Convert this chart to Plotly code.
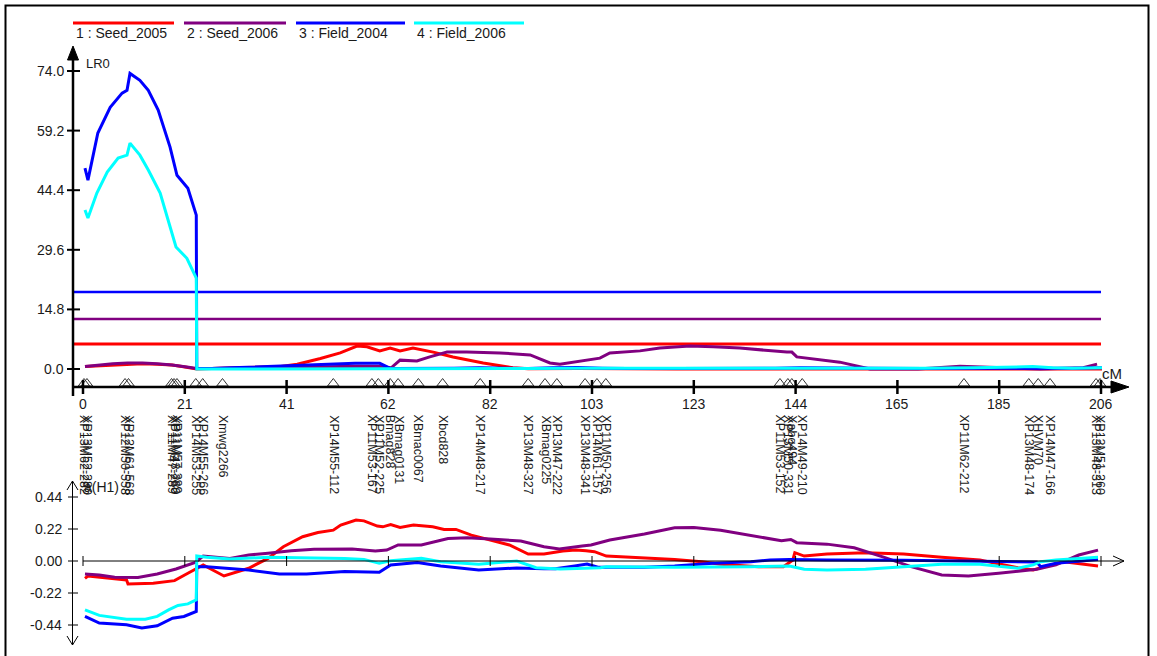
import plotly.graph_objects as go

# ------------------------------------------------------------------ data
series_names = ["1 : Seed_2005", "2 : Seed_2006", "3 : Field_2004", "4 : Field_2006"]
series_colors = ["#FF0000", "#800080", "#0000FF", "#00FFFF"]

x_tick_pos = [0, 20.58, 41.16, 61.74, 82.32, 102.9, 123.48, 144.06, 164.64, 185.22, 205.8]
x_tick_text = ["0", "21", "41", "62", "82", "103", "123", "144", "165", "185", "206"]
lr_tick_vals = [0.0, 14.8, 29.6, 44.4, 59.2, 74.0]
lr_tick_text = ["0.0", "14.8", "29.6", "44.4", "59.2", "74.0"]
eff_tick_vals = [0.44, 0.22, 0.0, -0.22, -0.44]
eff_tick_text = ["0.44", "0.22", "0.00", "-0.22", "-0.44"]

# LR thresholds (Seed_2005, Seed_2006, Field_2004)
threshold_vals = [6.2, 12.4, 19.1]
threshold_colors = ["#FF0000", "#800080", "#0000FF"]

marker_names = [
    "XP13M62-282", "XP13M52-280", "XP12M50-558", "XP12M61-568",
    "XP11M47-289", "XP11M43-280", "XP11M57-389", "XP14M53-255", "XP14M55-266",
    "Xmwg2266", "XP14M55-112", "XP11M53-167", "XP11M52-225", "Bmag828",
    "XBmag0131", "XBmac0067", "Xbcd828", "XP14M48-217", "XP13M48-327",
    "XBmag0225", "XP13M47-222", "XP13M48-341", "XP14M61-157", "XP11M50-256",
    "XP11M53-152", "XP13M50-331", "Xabg494", "XP14M49-210", "XP11M62-212",
    "XP13M48-174", "XHVM70", "XP14M47-166", "XP13M48-313", "XP12M51-260",
]
marker_pos = [
    0.2, 0.8, 8.5, 9.2,
    17.9, 18.4, 19.0, 22.8, 24.2,
    28.2, 50.6, 58.4, 59.7, 62.1,
    63.7, 67.8, 72.7, 80.3, 90.0,
    93.4, 95.8, 101.5, 103.9, 105.7,
    140.9, 142.5, 143.3, 145.4, 178.1,
    191.2, 193.1, 195.5, 204.8, 205.6,
]

# ---- LR profiles (top panel)
lr_seed2005_pos = [0.4, 3, 6, 9, 12, 15, 18, 20, 22, 23, 26, 30, 35, 40, 43.3, 48, 52, 55.4, 57.4, 60,
                   62.1, 64.1, 66.7, 70.8, 74.8, 80.9, 86.9, 90, 100, 110, 120, 130, 140, 150, 160,
                   170, 180, 190, 200, 206]
lr_seed2005 = [0.6, 0.8, 1.0, 1.2, 1.3, 1.2, 1.0, 0.6, 0.2, 0.0, 0.1, 0.2, 0.3, 0.6, 1.2, 2.6, 4.0, 5.7, 5.5, 4.5,
               5.2, 4.5, 5.2, 4.2, 3.0, 1.5, 0.3, 0.05, 0.1, 0.0, 0.0, 0.0, 0.0, 0.0, 0.0,
               0.0, 0.0, 0.05, 0.0, 0.0]

lr_seed2006_pos = [0.4, 3, 6, 9, 12, 15, 18, 21, 23, 26, 30, 40, 50, 55, 60, 62.3, 64.1, 67.5, 70.1, 73.6,
                   77.6, 84.3, 90.4, 94.4, 96.4, 104.5, 106.5, 112.6, 116.6, 122.7, 127.4, 132.8, 142.3,
                   143.3, 144.3, 153.0, 159.1, 168.8, 177.3, 186.8, 193.5, 202.2, 205.0]
lr_seed2006 = [0.6, 1.0, 1.3, 1.5, 1.5, 1.3, 1.0, 0.5, 0.1, 0.1, 0.2, 0.4, 0.6, 0.7, 0.6, 0.3, 2.2, 2.0, 3.0, 4.2,
               4.2, 4.0, 3.5, 1.5, 1.2, 2.7, 4.0, 4.5, 5.2, 5.7, 5.5, 5.2, 4.2,
               4.2, 3.0, 1.7, 0.0, 0.0, 0.7, 0.3, 0.0, 0.3, 1.2]

lr_field2004_pos = [0.4, 1.0, 3.0, 5.5, 7.9, 8.9, 9.5, 11.5, 13.2, 15.2, 17.6, 19.0, 21.2, 22.9, 23.0, 26,
                    30, 35, 40, 45, 50, 55, 60, 62, 63, 66, 70, 75, 80, 85, 90, 95, 100, 105, 110, 120,
                    130, 140, 145, 150, 160, 170, 180, 190, 195, 200, 206]
lr_field2004 = [49.9, 46.9, 58.6, 65.0, 68.5, 69.2, 73.4, 71.7, 69.2, 64.3, 55.1, 48.1, 44.9, 38.2, 0.2, 0.1,
                0.3, 0.5, 0.7, 1.0, 1.2, 1.4, 1.4, 0.2, 0.1, 0.1, 0.1, 0.2, 0.3, 0.2, 0.1, 0.3, 0.4, 0.2, 0.1, 0.1,
                0.1, 0.2, 0.3, 0.3, 0.2, 0.1, 0.1, 0.1, 0.1, 0.2, 0.3]

lr_field2006_pos = [0.4, 1.0, 2.8, 4.9, 7.1, 8.9, 9.5, 11.5, 13.2, 15.6, 17.2, 18.8, 21.0, 22.9, 23.0, 30,
                    40, 50, 60, 70, 80, 90, 100, 110, 120, 130, 140, 150, 160, 170, 180, 188, 192, 196, 200, 206]
lr_field2006 = [39.5, 37.5, 43.7, 48.9, 52.4, 53.1, 56.1, 53.1, 49.4, 43.7, 37.0, 30.3, 27.5, 22.6, 0.0, 0.0,
                0.1, 0.0, 0.0, 0.1, 0.1, 0.1, 0.2, 0.2, 0.2, 0.2, 0.2, 0.1, 0.1, 0.2, 0.3, 0.5, 0.6, 0.3, 0.2, 0.3]

# ---- additive effects a(H1) (bottom panel)
ef_seed2005_pos = [0.4, 1.0, 8.8, 9.1, 14.2, 18.5, 21.2, 24.3, 28.5, 33.5, 37.4, 40.5, 44.4, 47.5, 50.6, 52.1,
                   55.2, 56.8, 59.5, 60.6, 62.2, 64.1, 66.8, 70.7, 73.0, 75.4, 78.5, 82.3, 86.2, 90.0, 93.2,
                   97.0, 99.6, 101.7, 103.4, 105.8, 112.7, 119.6, 125.1, 128.9, 136.6, 141.6, 143.5, 143.9,
                   145.8, 150.4, 158.2, 165.9, 173.6, 181.3, 189.0, 192.1, 194.4, 198.3, 205.2]
ef_seed2005 = [-0.119, -0.103, -0.130, -0.158, -0.153, -0.135, -0.084, -0.027, -0.103, -0.050, 0.018, 0.098,
               0.167, 0.196, 0.212, 0.247, 0.281, 0.276, 0.240, 0.235, 0.251, 0.231, 0.247, 0.235, 0.217, 0.217,
               0.178, 0.144, 0.110, 0.048, 0.048, 0.068, 0.075, 0.071, 0.064, 0.034, 0.023, 0.011, -0.005,
               -0.023, -0.039, -0.039, 0.007, 0.057, 0.034, 0.048, 0.057, 0.048, 0.025, 0.007, -0.046, -0.062,
               -0.039, -0.005, -0.034]

ef_seed2006_pos = [0.4, 3.3, 6.4, 11.1, 15.0, 18.8, 22.7, 24.3, 29.7, 33.5, 37.4, 42.1, 46.7, 54.4, 59.1, 61.4,
                   63.7, 68.4, 73.8, 77.7, 82.3, 88.5, 93.2, 96.3, 100.9, 102.7, 106.5, 113.5, 119.6, 123.5,
                   128.9, 135.0, 141.2, 143.1, 144.3, 150.4, 155.9, 162.0, 167.4, 173.6, 179.0, 185.1, 192.8,
                   196.7, 201.3, 205.2]
ef_seed2006 = [-0.089, -0.096, -0.112, -0.114, -0.089, -0.055, -0.009, 0.034, 0.018, 0.041, 0.053, 0.071, 0.080,
               0.082, 0.068, 0.075, 0.110, 0.110, 0.155, 0.160, 0.151, 0.137, 0.098, 0.082, 0.103, 0.110, 0.144,
               0.185, 0.228, 0.231, 0.212, 0.174, 0.139, 0.148, 0.126, 0.116, 0.091, 0.025, -0.039, -0.096,
               -0.103, -0.084, -0.057, -0.027, 0.041, 0.075]

ef_field2004_pos = [0.4, 3.3, 8.8, 11.9, 15.0, 18.1, 20.4, 22.9, 23.0, 25.0, 33.5, 39.7, 45.2, 49.1, 52.9, 59.9,
                    62.2, 67.6, 72.3, 80.0, 87.7, 93.2, 95.5, 99.4, 101.9, 104.1, 113.5, 119.6, 127.3, 135.0,
                    138.9, 142.8, 150.4, 165.9, 181.3, 192.8, 193.6, 196.7, 205.2]
ef_field2004 = [-0.381, -0.427, -0.438, -0.461, -0.445, -0.393, -0.381, -0.347, -0.039, -0.039, -0.062, -0.089,
                -0.089, -0.080, -0.073, -0.078, -0.027, -0.011, -0.034, -0.062, -0.048, -0.053, -0.053, -0.034,
                -0.021, -0.043, -0.043, -0.034, -0.016, -0.005, 0.007, 0.011, 0.007, 0.005, 0.000, -0.007,
                -0.039, -0.016, 0.011]

ef_field2006_pos = [0.4, 3.3, 8.8, 12.6, 15.0, 17.3, 19.2, 21.2, 22.9, 23.0, 25.0, 29.7, 37.4, 45.2, 52.9, 56.8,
                    59.9, 62.2, 68.4, 72.3, 80.0, 87.7, 91.6, 96.5, 99.4, 104.6, 105.8, 119.6, 135.0, 142.8,
                    145.8, 150.4, 158.2, 165.9, 173.6, 181.3, 189.0, 192.1, 193.6, 196.7, 205.2]
ef_field2006 = [-0.336, -0.374, -0.400, -0.400, -0.381, -0.336, -0.306, -0.295, -0.267, 0.034, 0.025, 0.014,
                0.025, 0.023, 0.018, 0.011, -0.016, 0.002, 0.018, -0.005, -0.023, 0.000, -0.046, -0.055, -0.053,
                -0.046, -0.039, -0.043, -0.039, -0.034, -0.057, -0.062, -0.057, -0.039, -0.023, -0.023, -0.050,
                -0.027, -0.005, 0.007, 0.025]

# ------------------------------------------------------------------ layout constants
W, H = 1157, 656
FONT = "Liberation Sans, Arial, sans-serif"
TXT = "#1a1a1a"
X0_PX, X_SCALE = 83.0, 1018.0 / 205.8      # px of 0 cM, px per cM
LR0_PX, LR_SCALE = 369.0, 298.0 / 74.0      # px of LR 0, px per LR unit
EF0_PX, EF_SCALE = 561.0, 128.0 / 0.88      # px of effect 0, px per unit

def PX(x):
    return x / W

def PY(y):
    return 1 - y / H

x_range = [(0 - X0_PX) / X_SCALE, (W - X0_PX) / X_SCALE]
y_range = [(LR0_PX - H) / LR_SCALE, LR0_PX / LR_SCALE]
y2_range = [(EF0_PX - H) / EF_SCALE, EF0_PX / EF_SCALE]
x_axis_start = (73 - X0_PX) / X_SCALE
tri_lr = (LR0_PX - 383.5) / LR_SCALE

fig = go.Figure()

# thresholds
for v, c in zip(threshold_vals, threshold_colors):
    fig.add_trace(go.Scatter(x=[x_axis_start, x_tick_pos[-1]], y=[v, v], mode="lines",
                             line=dict(color=c, width=3 if c == "#FF0000" else 2.5),
                             hoverinfo="skip", showlegend=False))

lr_series = [(lr_seed2005_pos, lr_seed2005), (lr_seed2006_pos, lr_seed2006),
             (lr_field2004_pos, lr_field2004), (lr_field2006_pos, lr_field2006)]
ef_series = [(ef_seed2005_pos, ef_seed2005), (ef_seed2006_pos, ef_seed2006),
             (ef_field2004_pos, ef_field2004), (ef_field2006_pos, ef_field2006)]

for (xs, ys), name, c in zip(lr_series, series_names, series_colors):
    fig.add_trace(go.Scatter(x=xs, y=ys, mode="lines", name=name, line=dict(color=c, width=3),
                             showlegend=False, xaxis="x", yaxis="y"))
for (xs, ys), name, c in zip(ef_series, series_names, series_colors):
    fig.add_trace(go.Scatter(x=xs, y=ys, mode="lines", name=name, line=dict(color=c, width=3),
                             showlegend=False, xaxis="x", yaxis="y2"))

# marker triangles
fig.add_trace(go.Scatter(x=marker_pos, y=[tri_lr] * len(marker_pos), mode="markers",
                         marker=dict(symbol="triangle-up-open", size=10, color="#333333",
                                     line=dict(width=1, color="#333333")),
                         cliponaxis=False, hoverinfo="skip", showlegend=False))

shapes = []
ann = []
BLK = "#000000"

# frame
shapes.append(dict(type="rect", xref="paper", yref="paper", x0=PX(5.5), y0=PY(5.5), x1=PX(1148.5), y1=PY(700),
                   line=dict(color=BLK, width=2)))

# legend
leg_x = [(73, 174), (184, 286), (296, 405), (414, 524)]
for (a, b), name, c in zip(leg_x, series_names, series_colors):
    shapes.append(dict(type="line", xref="paper", yref="paper", x0=PX(a), x1=PX(b), y0=PY(23), y1=PY(23),
                       line=dict(color=c, width=3)))
    ann.append(dict(text=name, xref="paper", yref="paper", x=PX(a + 1), y=PY(33), xanchor="left",
                    yanchor="middle", showarrow=False, font=dict(family=FONT, size=14, color=TXT)))

# ---- top panel axes
shapes.append(dict(type="line", xref="paper", yref="paper", x0=PX(73), x1=PX(73), y0=PY(56), y1=PY(396),
                   line=dict(color=BLK, width=2.5)))
shapes.append(dict(type="path", xref="paper", yref="paper",
                   path=f"M {PX(73)} {PY(46)} L {PX(67.5)} {PY(60)} L {PX(78.5)} {PY(60)} Z",
                   fillcolor=BLK, line=dict(color=BLK, width=1)))
ax_lr = (LR0_PX - 387) / LR_SCALE
shapes.append(dict(type="line", xref="paper", yref="y", x0=PX(73), x1=PX(1116), y0=ax_lr, y1=ax_lr,
                   line=dict(color=BLK, width=2.5)))
shapes.append(dict(type="path", xref="paper", yref="paper",
                   path=f"M {PX(1129)} {PY(387)} L {PX(1111)} {PY(381)} L {PX(1111)} {PY(393)} Z",
                   fillcolor=BLK, line=dict(color=BLK, width=1)))
for v, t in zip(lr_tick_vals, lr_tick_text):
    shapes.append(dict(type="line", xref="paper", yref="y", x0=PX(67), x1=PX(80), y0=v, y1=v,
                       line=dict(color=BLK, width=2)))
    ann.append(dict(text=t, xref="paper", yref="y", x=PX(66), y=v, xanchor="right", yanchor="middle",
                    showarrow=False, font=dict(family=FONT, size=14, color=TXT)))
for v, t in zip(x_tick_pos, x_tick_text):
    shapes.append(dict(type="line", xref="x", yref="paper", x0=v, x1=v, y0=PY(380), y1=PY(394),
                       line=dict(color=BLK, width=2.5)))
    ann.append(dict(text=t, xref="x", yref="paper", x=v, y=PY(404), xanchor="center", yanchor="middle",
                    showarrow=False, font=dict(family=FONT, size=14, color=TXT)))
ann.append(dict(text="LR0", xref="paper", yref="paper", x=PX(84), y=PY(63), xanchor="left", yanchor="middle",
                showarrow=False, font=dict(family=FONT, size=13, color=TXT)))
ann.append(dict(text="cM", xref="paper", yref="paper", x=PX(1112), y=PY(374), xanchor="center",
                yanchor="middle", showarrow=False, font=dict(family=FONT, size=15, color=TXT)))

# marker labels
for name, p in zip(marker_names, marker_pos):
    ann.append(dict(text=name, xref="x", yref="paper", x=p, y=PY(413), xanchor="center", yanchor="top",
                    textangle=90, showarrow=False, font=dict(family=FONT, size=12.5, color=TXT)))

# ---- bottom panel axes
shapes.append(dict(type="line", xref="paper", yref="paper", x0=PX(72.5), x1=PX(72.5), y0=PY(481), y1=PY(645),
                   line=dict(color=BLK, width=1)))
shapes.append(dict(type="path", xref="paper", yref="paper",
                   path=f"M {PX(67)} {PY(490)} L {PX(72.5)} {PY(481)} L {PX(78)} {PY(490)}",
                   line=dict(color=BLK, width=1)))
shapes.append(dict(type="path", xref="paper", yref="paper",
                   path=f"M {PX(67)} {PY(636)} L {PX(72.5)} {PY(645)} L {PX(78)} {PY(636)}",
                   line=dict(color=BLK, width=1)))
shapes.append(dict(type="line", xref="paper", yref="y2", x0=PX(83), x1=PX(1124), y0=0, y1=0,
                   line=dict(color=BLK, width=1)))
shapes.append(dict(type="path", xref="paper", yref="paper",
                   path=f"M {PX(1113)} {PY(556)} L {PX(1124)} {PY(561)} L {PX(1113)} {PY(566)}",
                   line=dict(color=BLK, width=1)))
for v, t in zip(eff_tick_vals, eff_tick_text):
    shapes.append(dict(type="line", xref="paper", yref="y2", x0=PX(68), x1=PX(78), y0=v, y1=v,
                       line=dict(color=BLK, width=1)))
    ann.append(dict(text=t, xref="paper", yref="y2", x=PX(64), y=v, xanchor="right", yanchor="middle",
                    showarrow=False, font=dict(family=FONT, size=14, color=TXT)))
for v in x_tick_pos:
    shapes.append(dict(type="line", xref="x", yref="paper", x0=v, x1=v, y0=PY(556), y1=PY(566),
                       line=dict(color=BLK, width=1)))
ann.append(dict(text="a(H1)", xref="paper", yref="paper", x=PX(82), y=PY(487), xanchor="left",
                yanchor="middle", showarrow=False, font=dict(family=FONT, size=14, color=TXT)))

fig.update_layout(
    width=W, height=H, margin=dict(l=0, r=0, t=0, b=0),
    paper_bgcolor="white", plot_bgcolor="white", showlegend=False,
    xaxis=dict(domain=[0, 1], range=x_range, visible=False, fixedrange=True),
    yaxis=dict(domain=[0, 1], range=y_range, visible=False, fixedrange=True),
    yaxis2=dict(domain=[0, 1], range=y2_range, visible=False, fixedrange=True, overlaying="y"),
    shapes=shapes, annotations=ann,
)

fig.write_html("out.html")
